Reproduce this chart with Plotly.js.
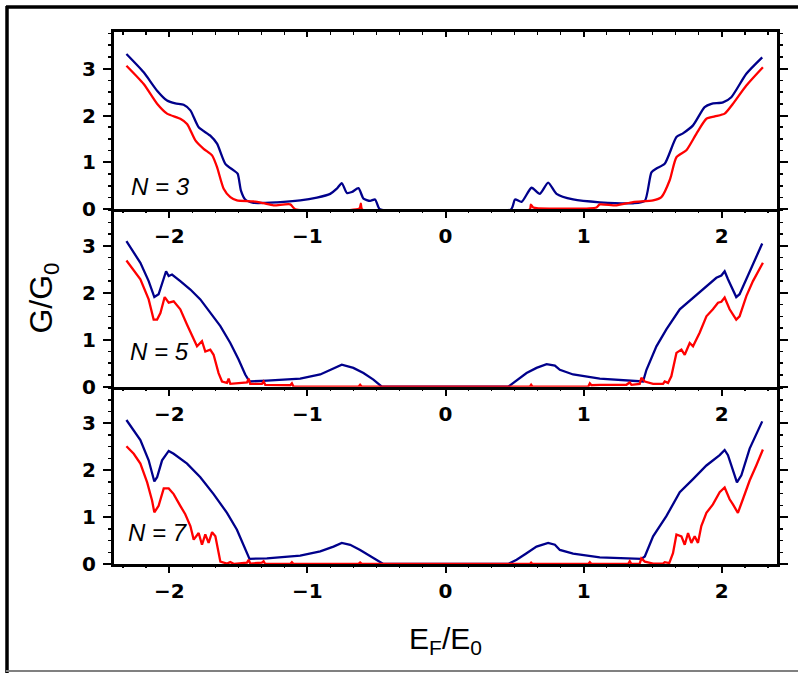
<!DOCTYPE html>
<html>
<head>
<meta charset="utf-8">
<script src="https://cdn.plot.ly/plotly-3.0.1.min.js"></script>
<style>html,body{margin:0;padding:0;background:#fff;}</style>
</head>
<body>
<div id="chart" style="width:798px;height:673px;"></div>
<script>
// ---- Data ----
const panelLabels = ["N = 3", "N = 5", "N = 7"];
const xTickStep = 1;      // major x ticks at -2, -1, 0, 1, 2
const yTickStep = 1;      // major y ticks at 0, 1, 2, 3

const n3BlueX = [-2.31,-2.185,-2.088,-2.016,-1.956,-1.896,-1.847,-1.787,-1.703,-1.654,-1.594,-1.534,-1.505,-1.481,-1.45,-1.39,-1.22,-1.052,-0.931,-0.835,-0.787,-0.751,-0.714,-0.678,-0.63,-0.594,-0.546,-0.51,-0.486,-0.474,
  0.474,0.503,0.551,0.623,0.683,0.743,0.804,0.924,1.117,1.358,1.443,1.491,1.527,1.587,1.672,1.719,1.792,1.876,1.925,2.009,2.069,2.178,2.293];
const n3BlueY = [3.31,2.92,2.53,2.32,2.26,2.23,2.11,1.75,1.57,1.40,0.97,0.83,0.76,0.40,0.21,0.14,0.15,0.19,0.25,0.33,0.44,0.56,0.35,0.37,0.45,0.23,0.18,0.21,0.05,0,
  0,0.21,0.16,0.46,0.33,0.57,0.33,0.21,0.15,0.13,0.18,0.79,0.87,0.97,1.54,1.62,1.79,2.18,2.25,2.28,2.39,2.89,3.24];
const n3RedX = [-2.31,-2.185,-2.088,-2.016,-1.92,-1.871,-1.811,-1.751,-1.69,-1.654,-1.606,-1.558,-1.51,-1.39,-1.317,-1.245,-1.124,-1.088,-0.623,-0.613,-0.604,
  0.611,0.618,0.635,0.756,1.093,1.117,1.238,1.358,1.503,1.563,1.623,1.672,1.744,1.816,1.889,1.949,2.021,2.081,2.178,2.298];
const n3RedY = [3.06,2.67,2.25,2.04,1.93,1.82,1.47,1.29,1.15,0.90,0.44,0.26,0.19,0.17,0.13,0.085,0.105,0,0.02,0.12,0,
  0,0.10,0.04,0.015,0.04,0.105,0.085,0.155,0.19,0.26,0.62,1.11,1.26,1.61,1.93,1.98,2.04,2.25,2.64,3.03];

const n5BlueX = [-2.31,-2.209,-2.149,-2.108,-2.077,-2.04,-2.023,-2.004,-1.98,-1.92,-1.847,-1.775,-1.703,-1.63,-1.558,-1.498,-1.45,-1.419,-1.293,-1.052,-0.907,-0.811,-0.751,-0.667,-0.594,-0.522,-0.461,
  0.454,0.503,0.587,0.659,0.732,0.792,0.828,0.924,1.117,1.43,1.455,1.527,1.599,1.696,1.792,1.889,1.961,1.997,2.021,2.045,2.081,2.105,2.129,2.178,2.226,2.293];
const n5BlueY = [3.10,2.64,2.25,1.91,1.97,2.32,2.46,2.36,2.39,2.25,2.07,1.86,1.57,1.29,0.93,0.58,0.26,0.11,0.13,0.17,0.26,0.40,0.47,0.40,0.29,0.15,0,
  0,0.11,0.29,0.40,0.48,0.45,0.36,0.26,0.17,0.11,0.36,0.86,1.22,1.65,1.90,2.14,2.32,2.37,2.46,2.29,2.07,1.91,1.97,2.29,2.61,3.05];
const n5RedX = [-2.31,-2.209,-2.149,-2.113,-2.088,-2.064,-2.033,-2.004,-1.968,-1.92,-1.871,-1.835,-1.799,-1.763,-1.739,-1.703,-1.679,-1.643,-1.618,-1.582,-1.57,-1.558,-1.437,-1.425,-1.414,-1.329,-1.317,-1.305,-1.124,-1.112,-1.1,-0.63,-0.618,-0.606,
  0.611,0.62,0.63,1.033,1.045,1.057,1.117,1.31,1.334,1.346,1.406,1.418,1.443,1.503,1.575,1.587,1.611,1.635,1.672,1.708,1.732,1.768,1.792,1.84,1.889,1.936,1.973,1.997,2.021,2.057,2.105,2.129,2.178,2.226,2.298];
const n5RedY = [2.69,2.29,1.86,1.43,1.43,1.57,1.91,1.79,1.82,1.65,1.32,1.07,0.86,0.97,0.75,0.79,0.68,0.29,0.11,0.08,0.17,0.06,0.09,0.17,0.06,0.06,0.11,0.04,0.03,0.07,0,0,0.04,0,
  0,0.04,0,0,0.07,0.03,0.04,0.04,0.09,0.04,0.06,0.19,0.11,0.06,0.06,0.11,0.08,0.22,0.72,0.79,0.68,0.93,0.86,1.15,1.50,1.65,1.79,1.81,1.90,1.65,1.43,1.50,1.93,2.25,2.64];

const n7BlueX = [-2.31,-2.209,-2.149,-2.108,-2.088,-2.052,-2.004,-1.968,-1.871,-1.775,-1.679,-1.582,-1.51,-1.45,-1.419,-1.293,-1.052,-0.907,-0.811,-0.751,-0.69,-0.618,-0.522,-0.45,
  0.454,0.515,0.587,0.659,0.743,0.792,0.828,0.924,1.117,1.418,1.443,1.503,1.599,1.696,1.792,1.889,1.985,2.021,2.045,2.081,2.11,2.142,2.202,2.293];
const n7BlueY = [3.07,2.64,2.21,1.76,1.85,2.21,2.41,2.35,2.14,1.85,1.49,1.09,0.73,0.30,0.11,0.12,0.18,0.27,0.37,0.45,0.41,0.30,0.12,0,
  0,0.09,0.23,0.37,0.45,0.41,0.30,0.22,0.14,0.11,0.16,0.59,1.02,1.53,1.81,2.10,2.32,2.43,2.32,1.99,1.74,1.89,2.46,3.04];
const n7RedX = [-2.31,-2.257,-2.209,-2.16,-2.124,-2.108,-2.077,-2.04,-2.004,-1.968,-1.92,-1.884,-1.847,-1.823,-1.787,-1.763,-1.739,-1.715,-1.69,-1.666,-1.63,-1.582,-1.558,-1.53,-1.437,-1.425,-1.414,-1.329,-1.317,-1.305,-1.124,-1.112,-1.1,-0.63,-0.618,-0.606,
  0.611,0.62,0.63,1.033,1.045,1.057,1.322,1.334,1.346,1.406,1.418,1.443,1.503,1.575,1.587,1.62,1.647,1.672,1.708,1.732,1.756,1.78,1.804,1.828,1.852,1.889,1.936,1.985,2.021,2.057,2.081,2.117,2.153,2.202,2.25,2.298];
const n7RedY = [2.51,2.35,2.14,1.74,1.35,1.10,1.24,1.61,1.61,1.49,1.24,1.06,0.81,0.52,0.66,0.41,0.63,0.45,0.68,0.59,0.05,0.01,0.04,0,0.03,0.09,0.01,0.03,0.06,0,0,0.04,0,0,0.03,0,
  0,0.03,0,0,0.04,0,0,0.06,0,0.01,0.12,0.05,0.01,0.01,0.04,0.02,0.23,0.63,0.59,0.41,0.66,0.45,0.59,0.45,0.81,1.09,1.27,1.53,1.63,1.38,1.27,1.09,1.38,1.78,2.10,2.44];

// ---- Styling ----
const BLUE = '#00008B', RED = '#FF0000';
const W = 798, H = 673, ML = 114, MR = 21, MT = 32, MB = 109;
const PW = W - ML - MR, PH = H - MT - MB;
const XR = [-2.4, 2.4], YR = [0, 3.78];
function px2paperX(p){ return (p - ML) / PW; }
function px2paperY(p){ return (H - MB - p) / PH; }
function sfx(n){ return n === 1 ? '' : String(n); }

function line(x, y, color, xa, ya, smooth){
  const ln = {color: color, width: 2.3};
  if (smooth) { ln.shape = 'spline'; ln.smoothing = 0.6; }
  return {x: x, y: y, type: 'scatter', mode: 'lines', xaxis: xa, yaxis: ya,
          line: ln, showlegend: false, hoverinfo: 'skip'};
}
function empty(xa, ya){
  return {x: [], y: [], xaxis: xa, yaxis: ya, type: 'scatter', mode: 'lines', showlegend: false, hoverinfo: 'skip'};
}
const traces = [
  line(n3BlueX, n3BlueY, BLUE, 'x', 'y', true),
  line(n3RedX, n3RedY, RED, 'x', 'y', true),
  line(n5BlueX, n5BlueY, BLUE, 'x2', 'y2', false),
  line(n5RedX, n5RedY, RED, 'x2', 'y2', false),
  line(n7BlueX, n7BlueY, BLUE, 'x3', 'y3', false),
  line(n7RedX, n7RedY, RED, 'x3', 'y3', false)
];

const tickFont = {family: 'DejaVu Sans', size: 20, color: 'black', weight: 'bold'};
const common = {showgrid: false, zeroline: false, tickcolor: 'black', linecolor: 'black', linewidth: 3, tickmode: 'linear', tick0: 0};

function xMain(p){
  return Object.assign({}, common, {anchor: 'y' + sfx(p), range: XR, dtick: xTickStep,
    showline: true, ticks: 'outside', ticklen: 6, tickwidth: 2, tickfont: tickFont, ticklabelstandoff: 1});
}
function xOver(p, side, dtick, len, width, dir, showLine){
  return Object.assign({}, common, {overlaying: 'x' + sfx(p), anchor: 'y' + sfx(p), side: side, range: XR, dtick: dtick,
    showline: showLine, ticks: dir, ticklen: len, tickwidth: width, showticklabels: false});
}
function yMain(p, domain){
  return Object.assign({}, common, {anchor: 'x' + sfx(p), domain: domain, range: YR, dtick: yTickStep,
    showline: true, ticks: 'outside', ticklen: 8, tickwidth: 2, tickfont: tickFont, ticklabelstandoff: 3});
}
function yOver(p, side, dtick, len, width, showLine){
  return Object.assign({}, common, {overlaying: 'y' + sfx(p), anchor: 'x' + sfx(p), side: side, range: YR, dtick: dtick,
    showline: showLine, ticks: 'outside', ticklen: len, tickwidth: width, showticklabels: false});
}

const layout = {
  width: W, height: H,
  margin: {l: ML, r: MR, t: MT, b: MB, pad: 0},
  paper_bgcolor: 'white', plot_bgcolor: 'white',
  showlegend: false,
  annotations: [],
  shapes: [
    {type: 'line', xref: 'paper', yref: 'paper', x0: px2paperX(7), x1: px2paperX(7), y0: px2paperY(6), y1: px2paperY(673), line: {color: 'black', width: 3.5}},
    {type: 'line', xref: 'paper', yref: 'paper', x0: px2paperX(6), x1: px2paperX(798), y0: px2paperY(7), y1: px2paperY(7), line: {color: 'black', width: 3.5}},
    {type: 'line', xref: 'paper', yref: 'paper', x0: px2paperX(6), x1: px2paperX(798), y0: px2paperY(671), y1: px2paperY(671), line: {color: '#808080', width: 2}}
  ]
};

const domains = [[2/3, 1], [1/3, 2/3], [0, 1/3]];
const labelPos = [[-2.29, 0.49], [-2.30, 0.75], [-2.31, 0.67]];
for (let p = 1; p <= 3; p++) {
  layout['xaxis' + sfx(p)] = xMain(p);
  layout['yaxis' + sfx(p)] = yMain(p, domains[p - 1]);
  // minor x ticks (bottom)
  layout['xaxis' + (3 + p)] = xOver(p, 'bottom', xTickStep / 6, 3, 1.5, 'outside', false);
  traces.push(empty('x' + (3 + p), 'y' + sfx(p)));
  // minor y ticks (left)
  layout['yaxis' + (3 + p)] = yOver(p, 'left', yTickStep / 4, 5, 1.5, false);
  traces.push(empty('x' + sfx(p), 'y' + (3 + p)));
  // right frame with major and minor ticks
  layout['yaxis' + (6 + p)] = yOver(p, 'right', yTickStep, 8, 2, true);
  traces.push(empty('x' + sfx(p), 'y' + (6 + p)));
  layout['yaxis' + (9 + p)] = yOver(p, 'right', yTickStep / 4, 5, 1.5, false);
  traces.push(empty('x' + sfx(p), 'y' + (9 + p)));
  layout.annotations.push({xref: 'x' + sfx(p), yref: 'y' + sfx(p), x: labelPos[p - 1][0], y: labelPos[p - 1][1],
    text: '<i>' + panelLabels[p - 1] + '</i>', showarrow: false, xanchor: 'left', yanchor: 'middle',
    font: {family: 'Liberation Sans', size: 24, color: 'black'}});
}
// top frame of the first panel, ticks pointing inward
layout.xaxis7 = xOver(1, 'top', xTickStep, 5, 2, 'inside', true);
traces.push(empty('x7', 'y'));
layout.xaxis8 = xOver(1, 'top', xTickStep / 6, 3, 1.5, 'inside', false);
traces.push(empty('x8', 'y'));

layout.xaxis3.title = {text: 'E<sub>F</sub>/E<sub>0</sub>', font: {family: 'Liberation Sans', size: 30, color: 'black'}, standoff: 26};
layout.yaxis2.title = {text: 'G/G<sub>0</sub>', font: {family: 'Liberation Sans', size: 32, color: 'black'}, standoff: 20};

Plotly.newPlot('chart', traces, layout, {staticPlot: true, displayModeBar: false});
</script>
</body>
</html>
